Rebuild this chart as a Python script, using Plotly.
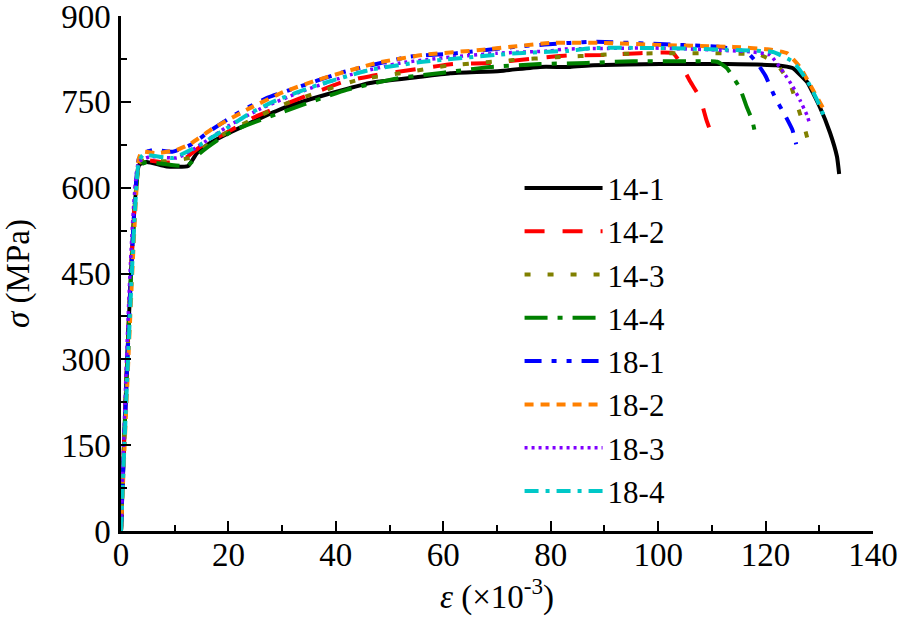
import plotly.graph_objects as go

# strain (x10^-3) / stress (MPa)
x_14_1 = [0, 3.4, 4.8, 8.5, 12.5, 14.1, 16.6, 20, 24, 30.2, 36.5, 41, 46.4, 55, 61.3, 70.6, 78, 83.6, 87.9, 100.4, 112.8, 122, 125, 127.7, 130.1, 132, 133.3, 133.7]
y_14_1 = [0, 640, 645, 637, 638, 660, 678, 695, 713, 739, 758, 770, 783, 793, 800, 804, 811, 811, 814, 816, 816, 814, 809, 785, 741, 696, 654, 624]

x_14_2 = [0, 3.4, 4.8, 8, 11, 14.7, 20, 25, 33.3, 41.4, 47.6, 55, 61.8, 68.7, 76.2, 83, 89.7, 96.6, 102.8, 104, 106, 107.8, 109, 110]
y_14_2 = [0, 643, 648, 644, 645, 671, 698, 724, 756, 785, 797, 807, 816, 818, 825, 831, 832, 835, 835, 820, 785, 757, 718, 692]

x_14_3 = [0, 3.4, 4.8, 8, 12.8, 15, 20, 25, 31.5, 44, 52, 60.7, 73, 81, 85.5, 93.5, 102, 110, 119, 122, 124.5, 126, 127.4, 128.4]
y_14_3 = [0, 642, 650, 646, 652, 668, 698, 722, 750, 788, 800, 813, 823, 828, 830, 834, 835, 835, 832, 817, 783, 741, 700, 663]

x_14_4 = [0, 3.4, 4.8, 6.6, 12.3, 14.7, 18, 21, 25.9, 33.9, 42, 51.4, 60, 68.7, 78, 86.7, 95.4, 105.3, 111, 112.8, 115.2, 116.5, 117.5, 118.2]
y_14_4 = [0, 638, 645, 643, 638, 660, 683, 700, 718, 745, 771, 791, 801, 811, 816, 818, 821, 821, 820, 809, 774, 741, 718, 689]

x_18_1 = [0, 3.3, 4.5, 6, 9.7, 13, 17, 22, 27.2, 31.5, 41.4, 53.8, 62.5, 74.3, 83.6, 88, 105.4, 111.5, 116.5, 118.4, 120, 121.8, 123.6, 125, 125.7]
y_18_1 = [0, 650, 662, 666, 663, 675, 702, 732, 757, 771, 802, 829, 835, 847, 853, 855, 849, 846, 837, 818, 795, 757, 727, 701, 676]

x_18_2 = [0, 3.3, 3.85, 6.6, 10.4, 12.8, 17.2, 24, 30.2, 36.5, 47.6, 56.2, 67.4, 79.9, 89.2, 101.6, 114, 120.3, 124, 126.4, 128.8, 130.7]
y_18_2 = [0, 650, 663, 660, 666, 676, 704, 739, 767, 788, 818, 832, 841, 853, 853, 849, 846, 842, 835, 811, 771, 739]

x_18_3 = [0, 3.3, 5.4, 10.4, 14, 20, 26, 33.3, 42.6, 52, 61.3, 70, 79.9, 82.3, 99, 109.7, 117.7, 120.8, 123.3, 125.1, 126.4, 127.7, 128.1]
y_18_3 = [0, 645, 654, 652, 670, 708, 738, 767, 797, 818, 828, 835, 839, 842, 844, 841, 837, 832, 802, 776, 753, 727, 715]

x_18_4 = [0, 3.3, 4.1, 9.7, 14.7, 19.7, 24, 29, 36.5, 46.4, 56.2, 73.7, 83, 87.9, 100.4, 112.8, 121.4, 125.1, 127.7, 129.6, 130.9]
y_18_4 = [0, 645, 657, 652, 675, 704, 730, 753, 779, 806, 820, 835, 839, 844, 844, 841, 837, 820, 788, 753, 724]

names = ['14-1', '14-2', '14-3', '14-4', '18-1', '18-2', '18-3', '18-4']
xs = [x_14_1, x_14_2, x_14_3, x_14_4, x_18_1, x_18_2, x_18_3, x_18_4]
ys = [y_14_1, y_14_2, y_14_3, y_14_4, y_18_1, y_18_2, y_18_3, y_18_4]
colors = ['#000000', '#ff0000', '#808000', '#008000', '#0000ff', '#ff8000', '#8000ff', '#00c8c8']
dashes = ['solid', '20px,18px', '6px,17px', '23px,10px,5px,10px',
          '17px,10px,5px,10px,5px,10px', '9px,7px', '3px,4px', '14px,7px,4px,7px']
widths = [4, 4, 4, 4, 4, 4, 3.5, 4]

font = 'Liberation Serif'

fig = go.Figure()
for name, x, y, c, d, w in zip(names, xs, ys, colors, dashes, widths):
    fig.add_trace(go.Scatter(x=x, y=y, name=name, mode='lines',
                             line=dict(color=c, dash=d, width=w, shape='spline', smoothing=0.4)))

axis_common = dict(showline=True, linecolor='black', linewidth=2.5, mirror=False,
                   ticks='inside', ticklen=10, tickwidth=2, tickcolor='black',
                   showgrid=False, zeroline=False, automargin=False,
                   ticklabeloverflow='allow',
                   tickfont=dict(family=font, size=33, color='black'))

fig.update_xaxes(range=[0, 140], tick0=0, dtick=20,
                 minor=dict(ticks='inside', ticklen=6, tickwidth=2, dtick=10, tickcolor='black'),
                 title=dict(text='<i>ε</i> (×10<sup>-3</sup>)', font=dict(family=font, size=33, color='black'),
                            standoff=4),
                 ticklabelstandoff=-7,
                 **axis_common)
fig.update_yaxes(range=[0, 900], tick0=0, dtick=150,
                 minor=dict(ticks='inside', ticklen=6, tickwidth=2, dtick=75, tickcolor='black'),
                 title=dict(text='<i>σ</i> (MPa)', font=dict(family=font, size=33, color='black'),
                            standoff=22),
                 ticklabelstandoff=1,
                 **axis_common)

fig.update_layout(
    width=898, height=620,
    margin=dict(l=121, r=25, t=16, b=89),
    plot_bgcolor='white', paper_bgcolor='white',
    font=dict(family=font, color='black'),
    legend=dict(x=0.53, y=0.718, xanchor='left', yanchor='top',
                font=dict(family=font, size=31, color='black'),
                itemwidth=78, bgcolor='rgba(0,0,0,0)', tracegroupgap=0),
)

fig.write_html("out.html", config={'displayModeBar': False},
               post_script="document.body.style.margin='0';")
